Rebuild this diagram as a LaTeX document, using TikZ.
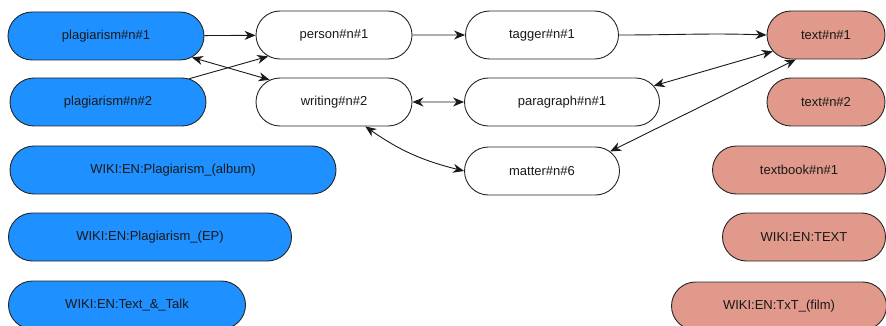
\documentclass[tikz,border=0pt]{standalone}
\usepackage{fontspec}
\setmainfont{Liberation Sans}
\usepackage{tikz}
\usetikzlibrary{arrows.meta,shapes.misc}

\definecolor{srcblue}{HTML}{1E90FF}
\definecolor{tgtsalmon}{HTML}{E0998A}

\begin{document}
\begin{tikzpicture}[x=1pt, y=-1pt,
    wn_node/.style={rounded rectangle, draw=black!85, line width=0.9pt,
      minimum height=48pt, inner sep=0pt, text=black!90,
      font=\fontsize{13}{15}\selectfont},
    src_node/.style={wn_node, fill=srcblue},
    mid_node/.style={wn_node, fill=white},
    tgt_node/.style={wn_node, fill=tgtsalmon},
    link/.style={line width=0.9pt, black!90},
    >={Stealth[length=11pt, width=9pt, inset=3.5pt]}
  ]
  \useasboundingbox (0,0) rectangle (886,326);

  % --- Source senses ---
  \node[src_node, minimum width=196pt] (plag1) at (106,36) {plagiarism\#n\#1};
  \node[src_node, minimum width=196pt] (plag2) at (108,102) {plagiarism\#n\#2};
  \node[src_node, minimum width=326pt] (wplagalb) at (173,170) {WIKI:EN:Plagiarism\_(album)};
  \node[src_node, minimum width=283pt] (wplagep) at (150,237) {WIKI:EN:Plagiarism\_(EP)};
  \node[src_node, minimum width=237pt] (wtextalk) at (127,305) {WIKI:EN:Text\_\&\_Talk};

  % --- Intermediate senses ---
  \node[mid_node, minimum width=156pt] (person) at (334,35) {person\#n\#1};
  \node[mid_node, minimum width=156pt] (writing) at (334,102) {writing\#n\#2};
  \node[mid_node, minimum width=153pt] (tagger) at (542,35) {tagger\#n\#1};
  \node[mid_node, minimum width=195pt] (para) at (562,102) {paragraph\#n\#1};
  \node[mid_node, minimum width=155pt] (matter) at (542,171) {matter\#n\#6};

  % --- Target senses ---
  \node[tgt_node, minimum width=118pt] (text1) at (826,35) {text\#n\#1};
  \node[tgt_node, minimum width=118pt] (text2) at (826,102) {text\#n\#2};
  \node[tgt_node, minimum width=173pt] (tbook) at (799,170) {textbook\#n\#1};
  \node[tgt_node, minimum width=163pt] (wtext) at (804,237) {WIKI:EN:TEXT};
  \node[tgt_node, minimum width=215pt] (wtxt) at (779,306) {WIKI:EN:TxT\_(film)};

  % --- Links ---
  \draw[link, ->] (plag1) -- (person);
  \draw[link, ->] (plag2.16) -- (person.198);
  \draw[link, <->] (plag1.-14) -- (writing.161);
  \draw[link, ->] (person) -- (tagger);
  \draw[link, ->] (tagger.east) to[out=0, in=178] (text1.west);
  \draw[link, <->] (writing) -- (para);
  \draw[link, <->] (writing.-38) to[out=-35, in=166] (matter.west);
  \draw[link, <->] (para.10) -- (text1.197);
  \draw[link, <->] (matter.16) -- (text1.219);
\end{tikzpicture}
\end{document}
